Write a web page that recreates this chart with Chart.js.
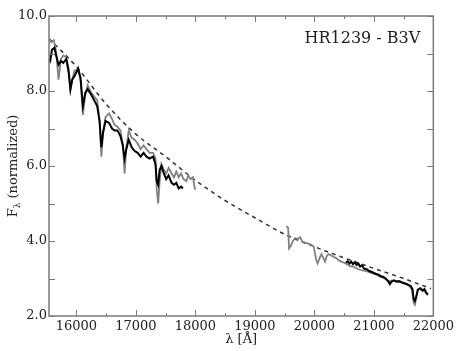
<!DOCTYPE html>
<html lang="en">
<head>
  <meta charset="UTF-8">
  <title>HR1239 - B3V</title>
  <script src="https://cdn.jsdelivr.net/npm/chart.js"></script>
  <style>
    body { margin: 0; background: #fff; }
    #chart { display: block; }
  </style>
</head>
<body>
<canvas id="chart" width="457" height="351"></canvas>
<script>
    // spectrum, first window (H band)
    const blackWlA = [15540, 15560, 15590, 15630, 15660, 15700, 15740, 15780, 15830, 15870, 15900, 15930, 15970, 16030, 16070, 16110, 16150, 16190, 16250, 16300, 16350, 16390, 16420, 16450, 16490, 16550, 16600, 16640, 16690, 16740, 16780, 16810, 16840, 16880, 16930, 16980, 17030, 17080, 17130, 17180, 17230, 17290, 17330, 17350, 17375, 17400, 17430, 17470, 17510, 17550, 17600, 17640, 17680, 17720, 17760, 17790];
    const blackFluxA = [8.85, 8.80, 9.10, 9.15, 8.95, 8.70, 8.80, 8.75, 8.85, 8.50, 8.05, 8.30, 8.40, 8.60, 8.35, 7.60, 7.95, 8.05, 7.90, 7.75, 7.60, 7.20, 6.50, 6.90, 7.20, 7.15, 7.00, 6.95, 6.95, 6.80, 6.55, 6.20, 6.45, 6.70, 6.50, 6.40, 6.35, 6.25, 6.35, 6.25, 6.20, 6.25, 6.05, 5.60, 5.50, 5.90, 6.00, 5.80, 5.65, 5.75, 5.55, 5.50, 5.55, 5.40, 5.45, 5.40];

    const grayWlA = [15540, 15580, 15620, 15660, 15700, 15740, 15780, 15830, 15870, 15900, 15930, 15970, 16030, 16070, 16110, 16150, 16190, 16250, 16300, 16350, 16390, 16420, 16450, 16490, 16550, 16600, 16640, 16690, 16740, 16780, 16810, 16840, 16880, 16930, 16980, 17030, 17080, 17130, 17180, 17230, 17290, 17330, 17350, 17375, 17400, 17430, 17470, 17510, 17550, 17600, 17640, 17680, 17720, 17760, 17800, 17850, 17880, 17920, 17960, 17990, 18010];
    const grayFluxA = [9.40, 9.30, 9.35, 9.05, 8.30, 8.85, 8.95, 8.90, 8.60, 8.02, 8.30, 8.55, 8.55, 8.30, 7.36, 7.90, 8.15, 7.95, 7.85, 7.75, 7.20, 6.25, 6.90, 7.30, 7.40, 7.25, 7.10, 7.05, 6.95, 6.60, 5.80, 6.50, 6.95, 6.75, 6.70, 6.60, 6.45, 6.55, 6.45, 6.35, 6.35, 6.20, 5.40, 5.00, 5.60, 6.05, 5.90, 5.80, 5.95, 5.80, 5.70, 5.85, 5.70, 5.80, 5.65, 5.60, 5.75, 5.65, 5.70, 5.40, 5.38];

    // spectrum, second window (K band)
    const blackWlB = [20530, 20560, 20590, 20620, 20650, 20680, 20710, 20740, 20770, 20800, 20840, 20880, 20920, 20960, 21000, 21040, 21080, 21120, 21160, 21200, 21240, 21270, 21300, 21340, 21380, 21420, 21460, 21500, 21540, 21580, 21620, 21650, 21670, 21690, 21710, 21740, 21780, 21820, 21850, 21880, 21910];
    const blackFluxB = [3.42, 3.46, 3.40, 3.45, 3.38, 3.43, 3.36, 3.40, 3.32, 3.35, 3.26, 3.25, 3.20, 3.18, 3.15, 3.12, 3.10, 3.06, 3.04, 3.00, 2.93, 2.85, 2.92, 2.95, 2.92, 2.93, 2.90, 2.88, 2.86, 2.83, 2.80, 2.72, 2.45, 2.40, 2.50, 2.70, 2.74, 2.68, 2.72, 2.62, 2.58];

    const grayWlB = [19530, 19560, 19575, 19600, 19640, 19680, 19720, 19760, 19800, 19850, 19900, 19950, 19990, 20030, 20055, 20090, 20120, 20150, 20180, 20210, 20240, 20280, 20320, 20360, 20400, 20450, 20500, 20550, 20600, 20650, 20700, 20750, 20800, 20850, 20900, 20950, 21000, 21050, 21100, 21150, 21200, 21250, 21300, 21350, 21400, 21450, 21500, 21550, 21600, 21640, 21670, 21690, 21710, 21740, 21780, 21820, 21850, 21880, 21910];
    const grayFluxB = [4.40, 4.35, 3.80, 3.85, 4.00, 4.08, 4.05, 4.10, 3.98, 3.95, 3.93, 3.90, 3.85, 3.50, 3.40, 3.55, 3.65, 3.55, 3.45, 3.60, 3.65, 3.62, 3.58, 3.55, 3.50, 3.45, 3.42, 3.38, 3.33, 3.32, 3.28, 3.24, 3.22, 3.20, 3.18, 3.15, 3.12, 3.10, 3.05, 3.02, 2.98, 2.92, 2.95, 2.93, 2.90, 2.92, 2.87, 2.85, 2.80, 2.70, 2.35, 2.30, 2.45, 2.70, 2.72, 2.66, 2.70, 2.60, 2.55];

    // continuum (dashed)
    const contWl = [15540, 16000, 16500, 17000, 17500, 18000, 18500, 19000, 19500, 20000, 20500, 21000, 21500, 21960];
    const contFlux = [9.40, 8.65, 7.65, 6.85, 6.25, 5.62, 5.08, 4.62, 4.18, 3.85, 3.55, 3.27, 3.00, 2.73];

    const xMajor = [16000, 17000, 18000, 19000, 20000, 21000, 22000];
    const xMinor = [16500, 17500, 18500, 19500, 20500, 21500];
    const yMajor = [2, 4, 6, 8, 10];
    const yMinor = [3, 5, 7, 9];

    const label = 'HR1239 - B3V';
    const frameColor = '#7a7a7a';
    const serif = "'DejaVu Serif', 'Liberation Serif', serif";

    function toPoints(xs, ys) {
        return xs.map((x, i) => ({ x: x, y: ys[i] }));
    }

    function spectrum(xs, ys, color, width) {
        return {
            data: toPoints(xs, ys),
            borderColor: color,
            borderWidth: width,
            pointRadius: 0,
            tension: 0,
            fill: false
        };
    }

    // frame, inward ticks, axis titles and the star label
    const framePlugin = {
        id: 'frame',
        afterDraw(chart) {
            const ctx = chart.ctx;
            const a = chart.chartArea;
            const xs = chart.scales.x;
            const ys = chart.scales.y;
            ctx.save();
            ctx.strokeStyle = frameColor;
            ctx.lineWidth = 1.5;
            ctx.strokeRect(a.left, a.top, a.right - a.left, a.bottom - a.top);

            ctx.lineWidth = 1;
            ctx.beginPath();
            const xt = (vals, len) => vals.forEach(v => {
                const px = Math.round(xs.getPixelForValue(v)) + 0.5;
                ctx.moveTo(px, a.bottom); ctx.lineTo(px, a.bottom - len);
                ctx.moveTo(px, a.top); ctx.lineTo(px, a.top + len);
            });
            const yt = (vals, len) => vals.forEach(v => {
                const py = Math.round(ys.getPixelForValue(v)) + 0.5;
                ctx.moveTo(a.left, py); ctx.lineTo(a.left + len, py);
                ctx.moveTo(a.right, py); ctx.lineTo(a.right - len, py);
            });
            xt(xMajor, 6); xt(xMinor, 3);
            yt(yMajor, 6); yt(yMinor, 6);
            ctx.stroke();

            ctx.fillStyle = '#222';
            ctx.font = '16px ' + serif;
            ctx.textAlign = 'right';
            ctx.textBaseline = 'alphabetic';
            ctx.fillText(label, a.right - 13, 43);

            // x title
            ctx.font = '13px ' + serif;
            ctx.textAlign = 'center';
            ctx.textBaseline = 'middle';
            ctx.fillText('\u03bb [\u00c5]', (a.left + a.right) / 2, 340);

            // y title with subscript lambda
            ctx.translate(17, (a.top + a.bottom) / 2);
            ctx.rotate(-Math.PI / 2);
            ctx.textAlign = 'left';
            ctx.textBaseline = 'alphabetic';
            const main = '13px ' + serif;
            const sub = '9px ' + serif;
            ctx.font = main;
            const wF = ctx.measureText('F').width;
            const rest = ' (normalized)';
            const wRest = ctx.measureText(rest).width;
            ctx.font = sub;
            const wL = ctx.measureText('\u03bb').width;
            let x0 = -(wF + wL + wRest) / 2;
            ctx.font = main;
            ctx.fillText('F', x0, 0);
            ctx.font = sub;
            ctx.fillText('\u03bb', x0 + wF, 3);
            ctx.font = main;
            ctx.fillText(rest, x0 + wF + wL, 0);
            ctx.restore();
        }
    };

    const ctx = document.getElementById('chart').getContext('2d');
    new Chart(ctx, {
        type: 'line',
        data: {
            datasets: [
                spectrum(blackWlA, blackFluxA, '#000000', 2),
                spectrum(blackWlB, blackFluxB, '#000000', 2),
                spectrum(grayWlA, grayFluxA, '#808080', 1.8),
                spectrum(grayWlB, grayFluxB, '#808080', 1.8),
                Object.assign(spectrum(contWl, contFlux, '#333333', 1.5), { borderDash: [4, 4], cubicInterpolationMode: 'monotone' })
            ]
        },
        options: {
            responsive: false,
            animation: false,
            devicePixelRatio: 1,
            layout: { padding: { top: 16, right: 23, left: 0, bottom: 0 } },
            plugins: { legend: { display: false }, tooltip: { enabled: false } },
            scales: {
                x: {
                    type: 'linear',
                    min: 15540,
                    max: 22000,
                    afterBuildTicks: s => { s.ticks = xMajor.map(v => ({ value: v })); },
                    afterFit: s => { s.height = 35; },
                    grid: { display: false, drawTicks: false },
                    border: { display: false },
                    ticks: {
                        padding: 3,
                        color: '#222',
                        font: { family: serif, size: 13 },
                        maxRotation: 0,
                        autoSkip: false,
                        callback: v => String(v)
                    }
                },
                y: {
                    min: 2,
                    max: 10,
                    afterBuildTicks: s => { s.ticks = yMajor.map(v => ({ value: v })); },
                    afterFit: s => { s.width = 49; },
                    grid: { display: false, drawTicks: false },
                    border: { display: false },
                    ticks: {
                        padding: 2,
                        color: '#222',
                        font: { family: serif, size: 13 },
                        callback: v => v.toFixed(1)
                    }
                }
            }
        },
        plugins: [framePlugin]
    });
</script>
</body>
</html>
